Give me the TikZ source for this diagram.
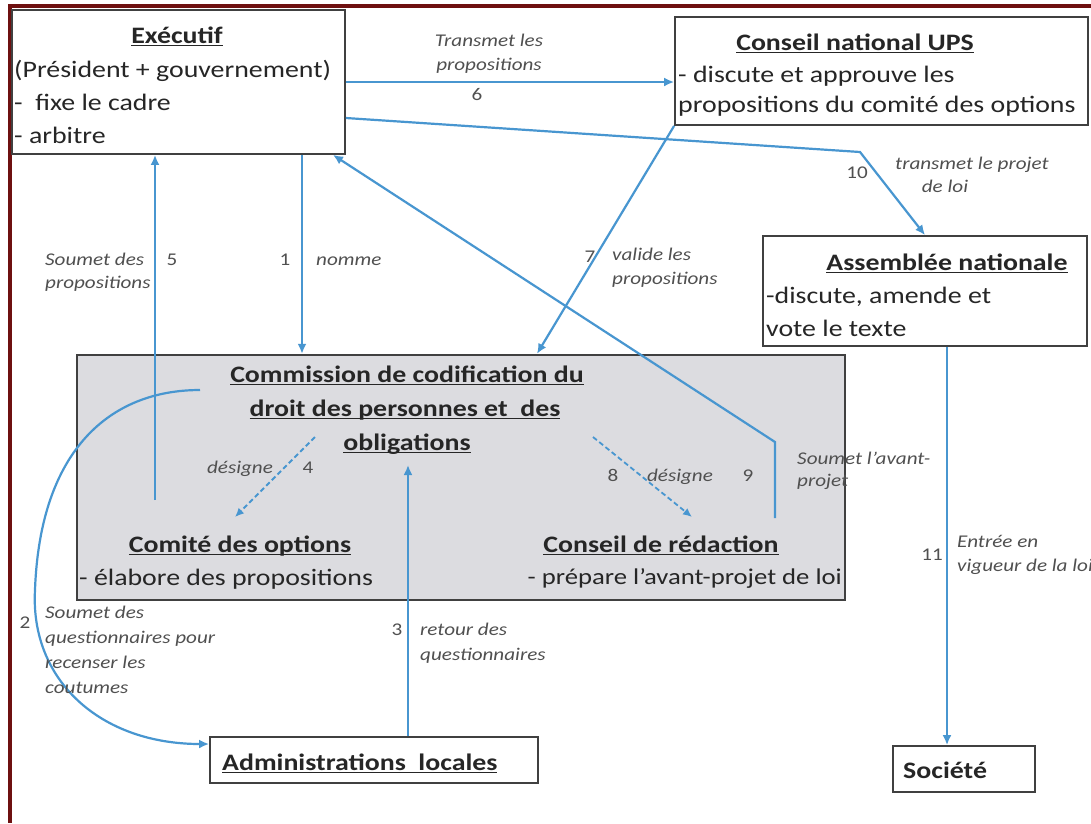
\documentclass[tikz,border=0pt]{standalone}
\usepackage{fontspec}
\setmainfont{Carlito}[FakeStretch=1.18]
\usetikzlibrary{arrows.meta}
\definecolor{framered}{RGB}{110,16,16}
\definecolor{arrowblue}{RGB}{72,150,208}
\definecolor{boxline}{RGB}{64,64,64}
\definecolor{grayfill}{RGB}{220,220,224}
\definecolor{txt}{RGB}{38,38,38}
\definecolor{lbl}{RGB}{80,80,80}
\newcommand\myul[1]{\setbox0=\hbox{#1}\rlap{\rule[-3pt]{\wd0}{1.5pt}}\box0}
\begin{document}
\begin{tikzpicture}[x=1pt,y=-1pt,
  boxst/.style={draw=boxline, line width=1.8pt, fill=white, rectangle, inner sep=0pt},
  commst/.style={draw=boxline, line width=2.4pt, fill=grayfill, rectangle, inner sep=0pt},
  main/.style={inner sep=0pt, text=txt, font=\fontsize{23.6}{28}\selectfont},
  mainb/.style={inner sep=0pt, text=txt, font=\fontsize{23.6}{28}\selectfont\bfseries},
  lab/.style={inner sep=0pt, text=lbl, font=\fontsize{17.9}{22}\selectfont\itshape},
  num/.style={inner sep=0pt, text=lbl, font=\fontsize{17.9}{22}\selectfont},
  arr/.style={draw=arrowblue, line width=2.2pt, -{Latex[length=10pt,width=9pt]}},
  darr/.style={draw=arrowblue, line width=1.8pt, dash pattern=on 5pt off 3pt, -{Latex[length=9pt,width=8pt]}}
]
\useasboundingbox (0,0) rectangle (1091,823);
\fill[white] (0,0) rectangle (1091,823);
% frame
\draw[framered, line width=4pt] (8,6) -- (1091,6);
\draw[framered, line width=4pt] (10,4) -- (10,823);

% boxes
\node[boxst, minimum width=333pt, minimum height=144pt] (exec) at (178.5,82) {};
\node[boxst, minimum width=413pt, minimum height=108pt] (ups) at (881.5,71) {};
\node[boxst, minimum width=324pt, minimum height=110pt] (an) at (925,291) {};
\node[commst, minimum width=768pt, minimum height=245pt] (comm) at (461,477.5) {};
\node[boxst, minimum width=328pt, minimum height=46pt] (admin) at (374,760) {};
\node[boxst, minimum width=142pt, minimum height=46pt] (soc) at (964,769) {};

% box texts
\node[mainb, anchor=base] (exec1) at (177,43) {\myul{Exécutif}};
\node[main, anchor=base west] (exec2) at (14,77) {(Président + gouvernement)};
\node[main, anchor=base west] (exec3) at (14,110) {-\ \ fixe le cadre};
\node[main, anchor=base west] (exec4) at (14,143) {- arbitre};

\node[mainb, anchor=base] (ups1) at (855,50) {\myul{Conseil national UPS}};
\node[main, anchor=base west] (ups2) at (678,82) {- discute et approuve les};
\node[main, anchor=base west] (ups3) at (678,112) {propositions du comité des options};

\node[mainb, anchor=base] (an1) at (947,270) {\myul{Assemblée nationale}};
\node[main, anchor=base west] (an2) at (766,303) {-discute, amende et};
\node[main, anchor=base west] (an3) at (766,336) {vote le texte};

\node[mainb, anchor=base] (comm1) at (407,382) {\myul{Commission de codification du}};
\node[mainb, anchor=base] (comm2) at (405,416) {\myul{droit des personnes et\ \ des}};
\node[mainb, anchor=base] (comm3) at (407,450) {\myul{obligations}};

\node[mainb, anchor=base] (co1) at (240,552) {\myul{Comité des options}};
\node[main, anchor=base west] (co2) at (79,585) {- élabore des propositions};
\node[mainb, anchor=base] (cr1) at (661,552) {\myul{Conseil de rédaction}};
\node[main, anchor=base east, font=\fontsize{22.6}{28}\selectfont] (cr2) at (842,584) {- prépare l’avant-projet de loi};

\node[mainb, anchor=base west] (admin1) at (222,770) {\myul{Administrations\ \ locales}};
\node[mainb, anchor=base west] (soc1) at (903,778) {Société};

% connectors
\coordinate (x1) at (302,0);
\draw[arr] (exec.south -| x1) -- (comm.north -| x1);
\coordinate (s5) at (155,500);
\draw[arr] (s5) -- (exec.south -| s5);
\coordinate (y6) at (0,82);
\draw[arr] (exec.east |- y6) -- (ups.west |- y6);
\coordinate (y10) at (0,118);
\coordinate (b10) at (860,152);
\coordinate (x10) at (925,0);
\draw[arr] (exec.east |- y10) -- (b10) -- (an.north -| x10);
\coordinate (x7) at (537,0);
\draw[arr] (ups.south west) -- (comm.north -| x7);
\coordinate (s9) at (775,518);
\coordinate (b9) at (775,442);
\coordinate (x9) at (333,0);
\draw[arr] (s9) -- (b9) -- (exec.south -| x9);
\coordinate (x11) at (947,0);
\draw[arr] (an.south -| x11) -- (soc.north -| x11);
\coordinate (x3) at (408,0);
\coordinate (e3) at (408,465);
\draw[arr] (admin.north -| x3) -- (e3);
\coordinate (s2) at (200,390);
\coordinate (y2) at (0,744);
\draw[arr] (s2) .. controls (110,390) and (40,450) .. (35,590) .. controls (30,680) and (100,744) .. (admin.west |- y2);
\coordinate (d4a) at (315,437);
\coordinate (d4b) at (235,517);
\draw[darr] (d4a) -- (d4b);
\coordinate (d8a) at (593,437);
\coordinate (d8b) at (692,517);
\draw[darr] (d8a) -- (d8b);

% labels
\node[lab, anchor=base] (l6a) at (489,46) {Transmet les};
\node[lab, anchor=base] (l6b) at (489,70) {propositions};
\node[num, anchor=base] (n6) at (477,100) {6};

\node[lab, anchor=base west] (l5a) at (45,265) {Soumet des};
\node[lab, anchor=base west] (l5b) at (45,288) {propositions};
\node[num, anchor=base] (n5) at (172,265) {5};
\node[num, anchor=base] (n1) at (285,265) {1};
\node[lab, anchor=base west] (l1) at (316,265) {nomme};

\node[num, anchor=base] (n7) at (590,262) {7};
\node[lab, anchor=base west] (l7a) at (612,260) {valide les};
\node[lab, anchor=base west] (l7b) at (612,284) {propositions};

\node[num, anchor=base] (n10) at (857,178) {10};
\node[lab, anchor=base west] (l10a) at (895,169) {transmet le projet};
\node[lab, anchor=base] (l10b) at (945,192) {de loi};

\node[lab, anchor=base west] (l9a) at (797,464) {Soumet l’avant-};
\node[lab, anchor=base west] (l9b) at (797,486) {projet};
\node[num, anchor=base] (n8) at (613,481) {8};
\node[lab, anchor=base] (l8) at (680,481) {désigne};
\node[num, anchor=base] (n9) at (748,481) {9};

\node[lab, anchor=base] (l4) at (240,473) {désigne};
\node[num, anchor=base] (n4) at (308,473) {4};

\node[num, anchor=base] (n2) at (25,628) {2};
\node[lab, anchor=base west] (l2a) at (45,618) {Soumet des};
\node[lab, anchor=base west] (l2b) at (45,643) {questionnaires pour};
\node[lab, anchor=base west] (l2c) at (45,668) {recenser les};
\node[lab, anchor=base west] (l2d) at (45,693) {coutumes};

\node[num, anchor=base] (n3) at (397,635) {3};
\node[lab, anchor=base west] (l3a) at (420,635) {retour des};
\node[lab, anchor=base west] (l3b) at (420,660) {questionnaires};

\node[num, anchor=base] (n11) at (932,560) {11};
\node[lab, anchor=base west] (l11a) at (957,547) {Entrée en};
\node[lab, anchor=base west] (l11b) at (957,571) {vigueur de la loi};
\end{tikzpicture}
\end{document}
